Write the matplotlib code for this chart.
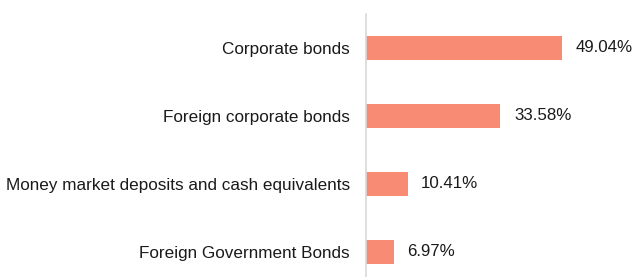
import matplotlib
matplotlib.use('Agg')
import matplotlib.pyplot as plt

categories = ['Foreign Government Bonds',
              'Money market deposits and cash equivalents',
              'Foreign corporate bonds',
              'Corporate bonds']
values = [6.97, 10.41, 33.58, 49.04]
labels = ['6.97%', '10.41%', '33.58%', '49.04%']

plt.rcParams['font.family'] = ['Liberation Sans', 'DejaVu Sans']

fig = plt.figure(figsize=(6.32, 2.77), dpi=100)
# axes: left at the vertical axis line, 4 px per percent
ax = fig.add_axes([366 / 632, 0, 240 / 632, 263 / 277])

y = range(len(categories))
ax.barh(y, values, height=0.353, color='#f88b73')
for yi, v, lab in zip(y, values, labels):
    ax.text(v + 3.4, yi, lab, va='center', ha='left', fontsize=12.2, color='#1a1a1a')

ax.set_xlim(0, 60)
ax.set_ylim(-0.368, 3.5)
ax.set_yticks(list(y))
ax.set_yticklabels(categories, fontsize=12.3, color='#1a1a1a')
ax.tick_params(axis='y', length=0, pad=11.5)
ax.set_xticks([])
for s in ['top', 'right', 'bottom']:
    ax.spines[s].set_visible(False)
ax.spines['left'].set_color('#d9d9d9')
ax.spines['left'].set_linewidth(1.2)

fig.savefig('out.png', dpi=100)
